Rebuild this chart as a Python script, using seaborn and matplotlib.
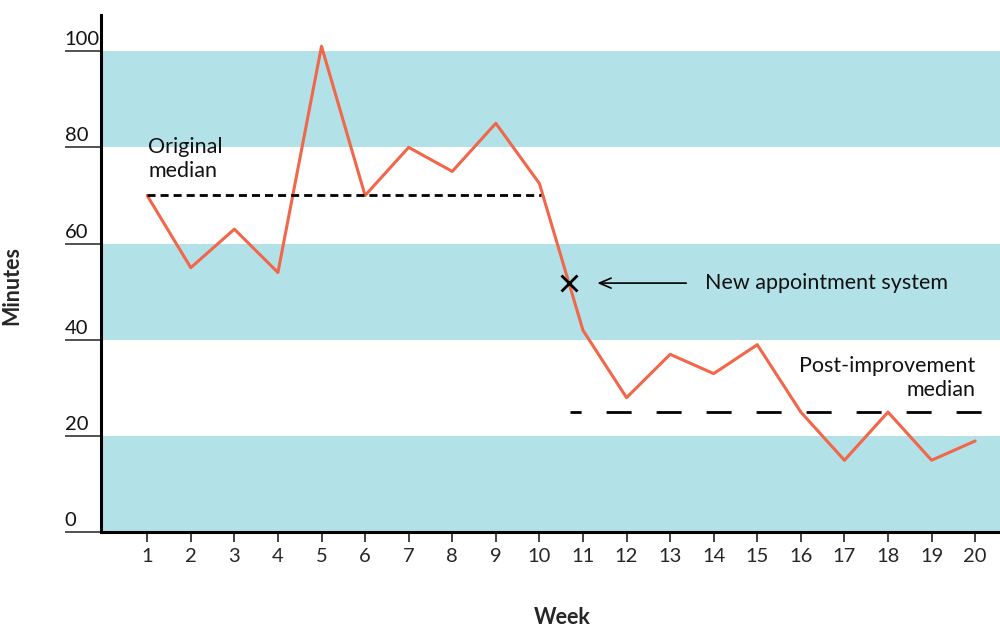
import matplotlib
matplotlib.use("Agg")
import matplotlib.pyplot as plt
import seaborn as sns
import pandas as pd

weeks = list(range(1, 21))
minutes = [70, 55, 63, 54, 101, 70, 80, 75, 85, 72.5,
           42, 28, 37, 33, 39, 25, 15, 25, 15, 19]
y_ticks = [0, 20, 40, 60, 80, 100]
band_lows = [0, 40, 80]
band_highs = [20, 60, 100]
original_median = 70
original_span = [1, 10.03]
post_median = 25
post_span = [10.71, 20.57]
change_week = 10.68
change_value = 51.8

sns.set_theme(style="white")
plt.rcParams["font.family"] = ["Lato", "DejaVu Sans"]

fig = plt.figure(figsize=(10, 6.29), dpi=100)
ax = fig.add_axes([0.101, 0.1535, 0.899, 0.8227])

for lo, hi in zip(band_lows, band_highs):
    ax.axhspan(lo, hi, color="#b2e1e8", lw=0, zorder=0)

df = pd.DataFrame({"Week": weeks, "Minutes": minutes})
sns.lineplot(data=df, x="Week", y="Minutes", ax=ax, color="#f26649", lw=2.2, zorder=3)

ax.plot(original_span, [original_median] * 2, color="black", lw=2,
        linestyle=(0, (2.9, 1.8)), zorder=4)
ax.plot(post_span, [post_median] * 2, color="black", lw=2,
        linestyle=(5, (9, 9)), dash_capstyle="butt", zorder=4)
ax.plot([change_week], [change_value], marker="x", color="black",
        ms=11, mew=2, zorder=5)
ax.annotate("", xy=(11.33, change_value), xytext=(13.37, change_value),
            arrowprops=dict(arrowstyle="->,head_length=0.7,head_width=0.3",
                            color="black", lw=1.2, shrinkA=0, shrinkB=0))
ax.text(13.8, change_value, "New appointment system", fontsize=15.5,
        va="center", ha="left", color="#111111")
ax.text(1.02, 82.2, "Original\nmedian", fontsize=15.5, va="top", ha="left",
        color="#111111", linespacing=1.28)
ax.text(20, 36.7, "Post-improvement\nmedian", fontsize=15.5, va="top",
        ha="right", color="#111111", linespacing=1.28)

ax.set_xlim(-0.06, 20.57)
ax.set_ylim(0, 107.5)
ax.set_xticks(weeks)
ax.set_xticklabels([str(w) for w in weeks], fontsize=14.5)
ax.set_yticks(y_ticks)
ax.set_yticklabels([])
ax.tick_params(axis="x", direction="out", length=7.5, width=1.2,
               color="#222222", bottom=True, pad=4)
ax.tick_params(axis="y", direction="out", length=26, width=1.2,
               color="#333333", left=True)
trans = ax.get_yaxis_transform()
for v in y_ticks:
    ax.text(-0.0405, v + 1.25, str(v), transform=trans, fontsize=14.5,
            ha="left", va="baseline", color="#111111")

for s in ["top", "right"]:
    ax.spines[s].set_visible(False)
for s in ["left", "bottom"]:
    ax.spines[s].set_color("black")
    ax.spines[s].set_linewidth(2.2)

ax.set_xlabel("")
ax.set_ylabel("")
fig.text(0.562, 0.018, "Week", fontsize=15.5, fontweight="bold",
         ha="center", va="center")
fig.text(0.012, 0.546, "Minutes", fontsize=15.5, fontweight="bold",
         rotation=90, ha="center", va="center")

fig.savefig("out.png", dpi=100)
